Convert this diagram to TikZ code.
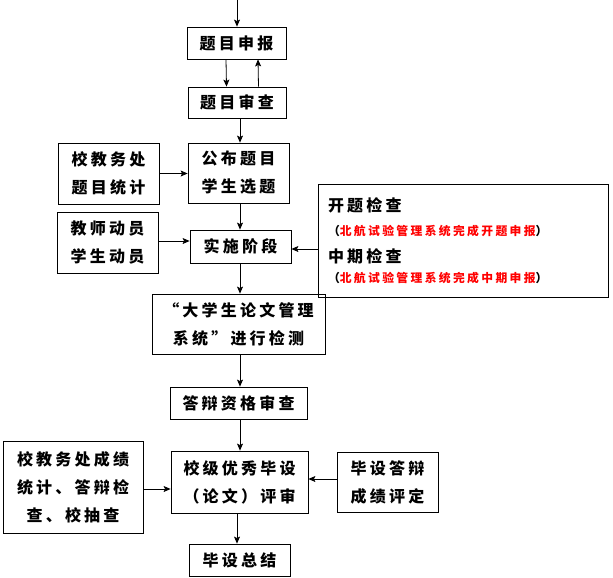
\documentclass[tikz,border=0pt]{standalone}
\usepackage{fontspec}
\newfontfamily\cjk[LetterSpace=20]{Noto Sans CJK SC}
\usetikzlibrary{arrows.meta}

\begin{document}
\begin{tikzpicture}[x=1pt,y=-1pt,>={Stealth[length=7pt,width=6pt,inset=1.5pt]},
  riquadro/.style={draw,thick,align=center,inner sep=0pt,font=\cjk\bfseries\fontsize{16}{28}\selectfont},
  freccia/.style={->,thick}]
\useasboundingbox (0,0) rectangle (613,578);

% --- Colonna centrale ---
\coordinate (inizio) at (237,0);
\node[riquadro,minimum width=99,minimum height=32] (sb) at (236.5,43) {题目申报};
\node[riquadro,minimum width=98,minimum height=31] (sc) at (237,102.5) {题目审查};
\node[riquadro,minimum width=101,minimum height=60] (gb) at (238.5,173) {公布题目\\学生选题};
\node[riquadro,minimum width=101,minimum height=33] (ss) at (240.5,246.5) {实施阶段};
\node[riquadro,minimum width=173,minimum height=60] (xt) at (238.5,324) {“大学生论文管理\\系统”进行检测};
\node[riquadro,minimum width=137,minimum height=32] (dz) at (238.5,403) {答辩资格审查};
\node[riquadro,minimum width=137,minimum height=62] (yx) at (239.5,482) {校级优秀毕设\\（论文）评审};
\node[riquadro,minimum width=101,minimum height=32] (zj) at (239.5,560) {毕设总结};

% --- Riquadri laterali ---
\node[riquadro,minimum width=101,minimum height=61] (tj) at (108.5,173.5) {校教务处\\题目统计};
\node[riquadro,minimum width=101,minimum height=61] (dy) at (107.5,242.5) {教师动员\\学生动员};
\node[riquadro,minimum width=140,minimum height=92] (cj) at (73,487) {校教务处成绩\\统计、答辩检\\查、校抽查};
\node[riquadro,minimum width=101,minimum height=60] (pd) at (387.5,482) {毕设答辩\\成绩评定};

% Controlli (testo a sinistra)
\node[riquadro,align=left,text width=270pt,inner xsep=10pt,minimum height=113,
  font=\cjk\bfseries\fontsize{16}{20}\selectfont] (jc) at (463,240.5)
  {开题检查\\[4pt]
   {\fontsize{11.8}{20}\selectfont（\textcolor{red}{北航试验管理系统完成开题申报}）}\\[7pt]
   中期检查\\
   {\fontsize{11.8}{20}\selectfont（\textcolor{red}{北航试验管理系统完成中期申报}）}};

% --- Frecce verticali ---
\draw[freccia] (inizio) -- (inizio |- sb.north);
\draw[freccia] ([xshift=-10.5pt]sb.south) -- ([xshift=-10.5pt]sc.north);
\draw[freccia] ([xshift=21.5pt]sc.north) -- ([xshift=21.5pt]sb.south);
\draw[freccia] ([xshift=3pt]sc.south) -- ([xshift=3pt]sc.south |- gb.north);
\draw[freccia] ([xshift=1.5pt]gb.south) -- ([xshift=1.5pt]gb.south |- ss.north);
\draw[freccia] ([xshift=-0.5pt]ss.south) -- ([xshift=-0.5pt]ss.south |- xt.north);
\draw[freccia] ([xshift=1.5pt]xt.south) -- ([xshift=1.5pt]xt.south |- dz.north);
\draw[freccia] ([xshift=1.5pt]dz.south) -- ([xshift=1.5pt]dz.south |- yx.north);
\draw[freccia] ([xshift=-2.5pt]yx.south) -- ([xshift=-2.5pt]yx.south |- zj.north);

% --- Frecce orizzontali ---
\draw[freccia] (tj.east) -- (tj.east -| gb.west);
\draw[freccia] ([yshift=1.5pt]dy.east) -- ([yshift=1.5pt]dy.east -| ss.west);
\draw[freccia] ([yshift=-2.5pt]jc.west |- ss.east) -- ([yshift=-2.5pt]ss.east);
\draw[freccia] ([yshift=-2pt]cj.east) -- ([yshift=-2pt]cj.east -| yx.west);
\draw[freccia] ([yshift=3pt]pd.west) -- ([yshift=3pt]pd.west -| yx.east);

\end{tikzpicture}
\end{document}
